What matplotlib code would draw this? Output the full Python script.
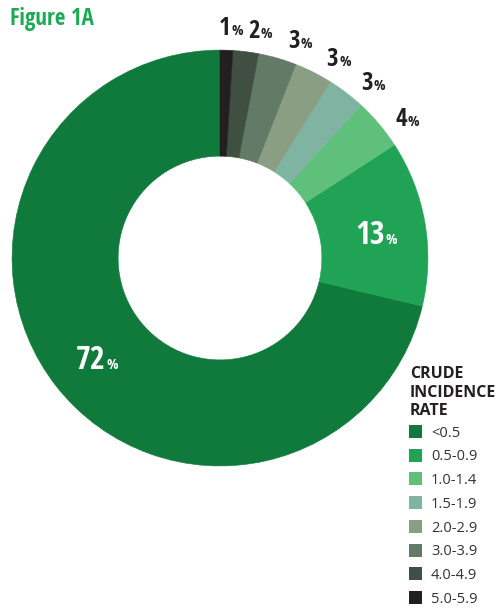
import numpy as np
import matplotlib
matplotlib.use("Agg")
import matplotlib.pyplot as plt
from matplotlib import font_manager
from matplotlib.patches import Rectangle

# crude incidence rate bands, counter-clockwise from 12 o'clock
rates = ["<0.5", "0.5-0.9", "1.0-1.4", "1.5-1.9", "2.0-2.9", "3.0-3.9", "4.0-4.9", "5.0-5.9"]
shares = [72, 13, 4, 3, 3, 3, 2, 1]
colours = ["#0f7a3c", "#21a355", "#5ec07a", "#7fb3a2", "#8a9e83", "#627a66", "#3f4f42", "#231f20"]
inside = [True, True, False, False, False, False, False, False]

names = {f.name for f in font_manager.fontManager.ttflist}


def fonts(*pref):
    return [f for f in pref if f in names] + ["DejaVu Sans"]


plt.rcParams["font.family"] = fonts("Open Sans Condensed", "Roboto Condensed", "Open Sans")
wide = fonts("Open Sans")

W, H = 500, 608
fig = plt.figure(figsize=(W / 100, H / 100), dpi=100)
ax = fig.add_axes([0.024, 0.2336, 0.832, 0.684])

wedges, _ = ax.pie(shares, colors=colours, startangle=90, counterclock=True,
                   radius=1, wedgeprops=dict(width=0.51, linewidth=0.4))
for w in wedges:
    w.set_edgecolor(w.get_facecolor())
ax.set_xlim(-1, 1)
ax.set_ylim(-1, 1)
ax.set_aspect("equal")

# small clockwise nudge for the outside labels so they fan out along the rim
nudge = {2: 2.7, 3: 2.9, 4: 3.2, 5: 3.4, 6: 2.2, 7: 0.2}

# value labels: big number with a small % on the same baseline
for i, (w, v, inn) in enumerate(zip(wedges, shares, inside)):
    mid = (w.theta1 + w.theta2) / 2
    if inn:
        ang, r, col, big, half, dx = mid, 0.76, "white", 23, 0.062, 0.045
    else:
        ang, r, col, big, half, dx = mid - nudge[i], 1.115, "#231f20", 18, 0.043, 0.012
    a = np.deg2rad(ang)
    x, y = r * np.cos(a) + dx, r * np.sin(a) - half
    ax.text(x, y, str(v), ha="right", va="baseline", fontsize=big,
            fontweight="bold", color=col)
    ax.text(x + 0.004, y, "%", ha="left", va="baseline", fontsize=11,
            fontweight="bold", color=col)

fig.text(10 / W, 1 - 25 / H, "Figure 1A", ha="left", va="baseline", fontsize=16.5,
         fontweight="bold", color="#1daa55")

# legend
for i, line in enumerate(["CRUDE", "INCIDENCE", "RATE"]):
    fig.text(410 / W, 1 - (378.5 + 18.3 * i) / H, line, ha="left", va="baseline",
             fontsize=11.5, fontweight="bold", color="#231f20", family=wide)
for i, (lab, c) in enumerate(zip(rates, colours)):
    yc = 431.5 + 23.7 * i
    fig.add_artist(Rectangle((409 / W, 1 - (yc + 6.5) / H), 13 / W, 13 / H,
                             transform=fig.transFigure, facecolor=c, edgecolor="none"))
    fig.text(431 / W, 1 - (yc + 5.3) / H, lab, ha="left", va="baseline",
             fontsize=10.5, fontweight="normal", color="#333333", family=wide)

fig.savefig("out.png", dpi=100)
